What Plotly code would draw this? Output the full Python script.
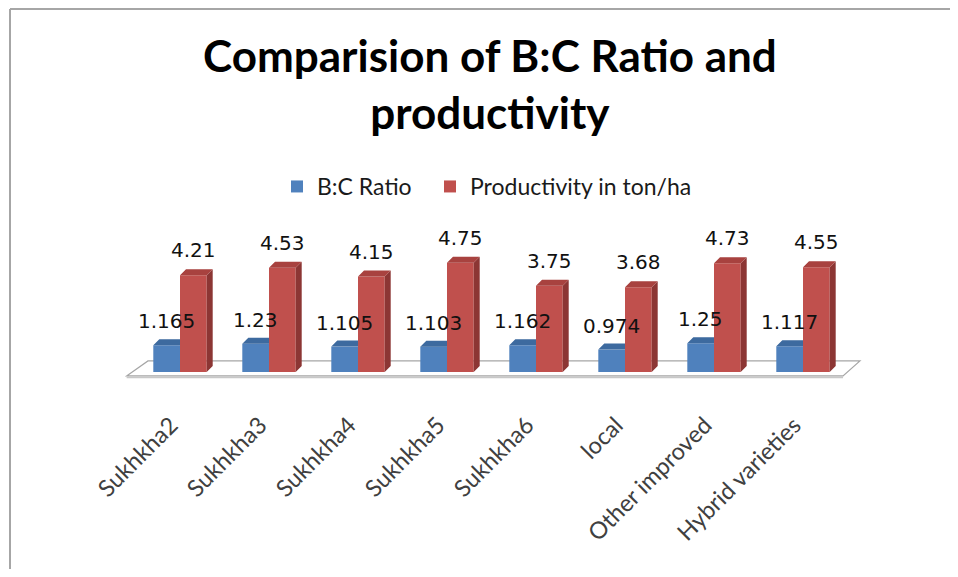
import plotly.graph_objects as go

categories = ["Sukhkha2", "Sukhkha3", "Sukhkha4", "Sukhkha5", "Sukhkha6",
              "local", "Other improved", "Hybrid varieties"]
bc_ratio = [1.165, 1.23, 1.105, 1.103, 1.162, 0.974, 1.25, 1.117]
productivity = [4.21, 4.53, 4.15, 4.75, 3.75, 3.68, 4.73, 4.55]
series_names = ["B:C Ratio", "Productivity in ton/ha"]

# the page body adds an 8 px margin on every side, so the figure is made
# smaller (no scrollbars) and every screen position is converted with PAGE_OFF
PAGE_OFF = 8
W, H = 958 - 2 * PAGE_OFF, 577 - 2 * PAGE_OFF


def fx(px):
    return (px - PAGE_OFF) / W


def fy(py):
    return 1 - (py - PAGE_OFF) / H


BLUE, BLUE_TOP = "#4F81BD", "#3D6A9F"
RED, RED_TOP, RED_SIDE = "#C0504D", "#A8423F", "#8C3634"

# screen geometry of the plotting area
X0PX, XSTEP = 180.0, 89.0
YBASE, YSTEP = 372.0, 23.0
XR = [-0.7, 7.75]
YR = [-0.3, 7.5]
xdom = [fx(X0PX + XR[0] * XSTEP), fx(X0PX + XR[1] * XSTEP)]
ydom = [fy(YBASE - YR[0] * YSTEP), fy(YBASE - YR[1] * YSTEP)]

BW = 0.3            # bar width (category units)
DX = 6 / XSTEP      # 3-D depth offset, x
DY = 6 / YSTEP      # 3-D depth offset, y
LABEL_SHIFT = 0.1   # rotated tick labels sit slightly left of the group centre

idx = list(range(len(categories)))

fig = go.Figure()

fig.add_trace(go.Bar(x=idx, y=bc_ratio, width=BW, offset=-BW, name=series_names[0],
                     legend="legend",
                     marker=dict(color=BLUE, line=dict(width=0)), hoverinfo="y"))
fig.add_trace(go.Bar(x=idx, y=productivity, width=BW, offset=0, name=series_names[1],
                     legend="legend2",
                     marker=dict(color=RED, line=dict(width=0)), hoverinfo="y"))

# 3-D faces computed from the data values
bx, by = [], []
for i, h in zip(idx, bc_ratio):
    x0, x1 = i - BW, i
    bx += [x0, x0 + DX, x1, x1, x0, None]
    by += [h, h + DY, h + DY, h, h, None]
fig.add_trace(go.Scatter(x=bx, y=by, mode="lines", fill="toself", fillcolor=BLUE_TOP,
                         line=dict(width=0), showlegend=False, hoverinfo="skip"))

sx, sy, tx, ty = [], [], [], []
for i, h in zip(idx, productivity):
    x0, x1 = i, i + BW
    sx += [x1, x1 + DX, x1 + DX, x1, x1, None]
    sy += [0, DY, h + DY, h, 0, None]
    tx += [x0, x0 + DX, x1 + DX, x1, x0, None]
    ty += [h, h + DY, h + DY, h, h, None]
fig.add_trace(go.Scatter(x=sx, y=sy, mode="lines", fill="toself", fillcolor=RED_SIDE,
                         line=dict(width=0), showlegend=False, hoverinfo="skip"))
fig.add_trace(go.Scatter(x=tx, y=ty, mode="lines", fill="toself", fillcolor=RED_TOP,
                         line=dict(width=0), showlegend=False, hoverinfo="skip"))

# data labels
ann = []
for i, v in zip(idx, bc_ratio):
    ann.append(dict(x=i - BW / 2, y=v, text=str(v), showarrow=False, yanchor="bottom",
                    yshift=10, font=dict(family="DejaVu Sans", size=20, color="#111111")))
for i, v in zip(idx, productivity):
    ann.append(dict(x=i + BW / 2, y=v, text=str(v), showarrow=False, yanchor="bottom",
                    yshift=11, font=dict(family="DejaVu Sans", size=20, color="#111111")))

# title
ann.append(dict(xref="paper", yref="paper", x=fx(490), y=fy(27), xanchor="center",
                yanchor="top", showarrow=False,
                text="Comparision of B:C Ratio and<br>productivity",
                font=dict(family="Lato", size=44, weight="bold", color="#000000")))

# floor of the 3-D plot area
fy_front, fy_back = -0.17, 0.48
fx_fl, fx_fr, fx_bl, fx_br = -0.6, 7.45, -0.36, 7.64
shapes = [
    dict(type="path", xref="x", yref="y", layer="below",
         path=f"M{fx_fl},{fy_front} L{fx_bl},{fy_back} L{fx_br},{fy_back} L{fx_fr},{fy_front} Z",
         fillcolor="#FFFFFF", line=dict(color="#A6A6A6", width=1.2)),
    dict(type="line", xref="x", yref="y", layer="below",
         x0=fx_fl, x1=fx_fr, y0=fy_front - 0.06, y1=fy_front - 0.06,
         line=dict(color="#C8C8C8", width=2)),
    # chart border
    dict(type="line", xref="paper", yref="paper", x0=fx(10), x1=1, y0=1 - 1 / H, y1=1 - 1 / H,
         line=dict(color="#A6A6A6", width=2)),
    dict(type="line", xref="paper", yref="paper", x0=fx(10), x1=fx(10), y0=0, y1=1 - 1 / H,
         line=dict(color="#A6A6A6", width=2)),
]

legend_font = dict(family="Lato", size=23, color="#1a1a1a")

fig.update_layout(
    width=W, height=H,
    margin=dict(l=0, r=0, t=0, b=0),
    paper_bgcolor="white", plot_bgcolor="rgba(0,0,0,0)",
    barmode="overlay",
    showlegend=True,
    legend=dict(orientation="h", x=fx(277), y=fy(165), xanchor="left", yanchor="top",
                font=legend_font, bgcolor="rgba(0,0,0,0)"),
    legend2=dict(orientation="h", x=fx(430), y=fy(165), xanchor="left", yanchor="top",
                 font=legend_font, bgcolor="rgba(0,0,0,0)"),
    annotations=ann,
    shapes=shapes,
    xaxis=dict(domain=xdom, range=XR, tickmode="array",
               tickvals=[i - LABEL_SHIFT for i in idx], ticktext=categories,
               tickangle=-45, tickfont=dict(family="Lato", size=23.5, color="#404040"),
               showgrid=False, zeroline=False, showline=False, ticks="",
               ticklabelstandoff=27, automargin=False, fixedrange=True),
    yaxis=dict(domain=ydom, range=YR, visible=False, fixedrange=True, automargin=False),
)

fig.write_html("out.html")
